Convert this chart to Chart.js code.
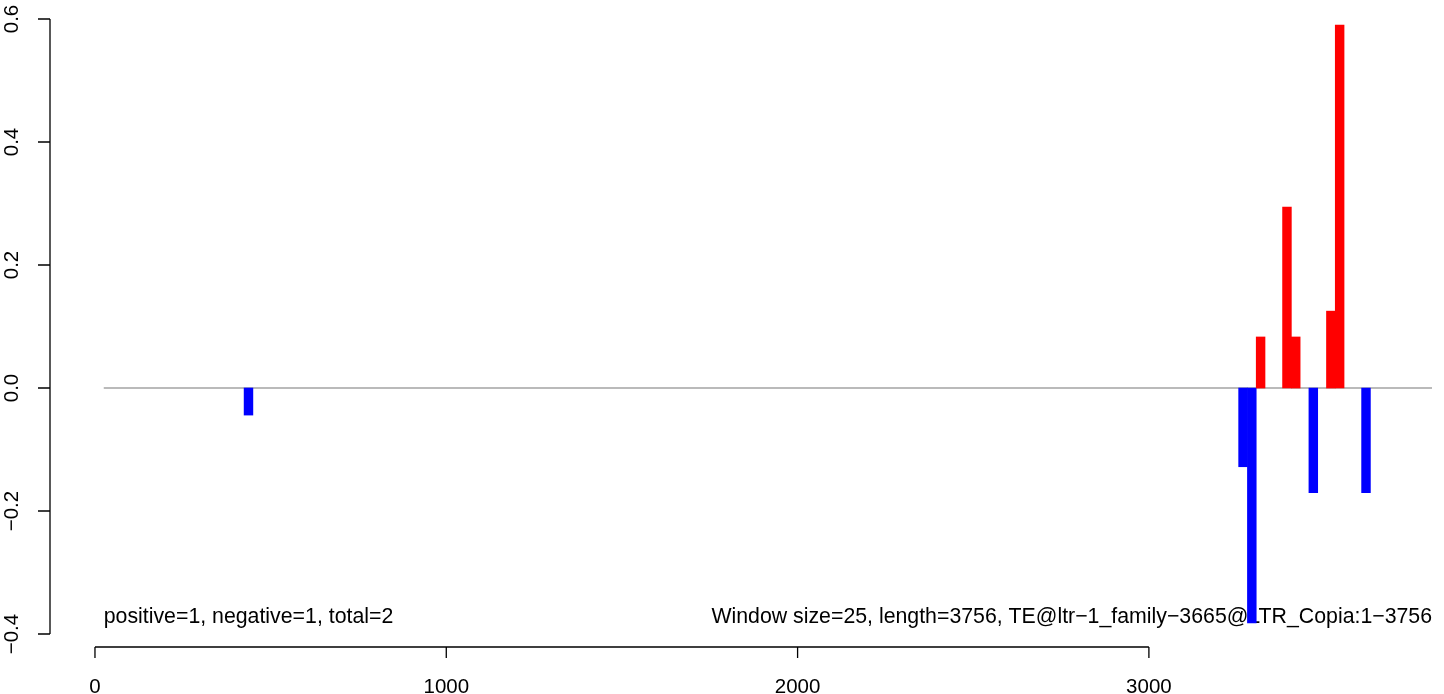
<!DOCTYPE html>
<html>
<head>
<meta charset="utf-8">
<script src="https://cdn.jsdelivr.net/npm/chart.js@4.4.1/dist/chart.umd.min.js"></script>
<style>
  body { margin: 0; background: #fff; }
  #wrap { width: 1444px; height: 694px; }
</style>
</head>
<body>
<div id="wrap"><canvas id="mycanvas"></canvas></div>
<script>
// bin centres (window size 25) and values
var posX = [3318, 3393, 3418, 3518, 3543];
var posY = [0.083, 0.294, 0.083, 0.125, 0.590];
var negX = [437, 3268, 3293, 3468, 3618];
var negY = [-0.044, -0.128, -0.382, -0.170, -0.170];
var zeroLineX = [25, 3806];
var xTicks = [0, 1000, 2000, 3000];
var yTicks = [-0.4, -0.2, 0.0, 0.2, 0.4, 0.6];
var leftNote = "positive=1, negative=1, total=2";
var rightNote = "Window size=25, length=3756, TE@ltr-1_family-3665@LTR_Copia:1-3756";

function pts(xs, ys) {
  var out = [];
  for (var i = 0; i < xs.length; i++) out.push({x: xs[i], y: ys[i]});
  return out;
}

var tickFont = '20.5px "Liberation Sans", Arial, sans-serif';
var noteFont = '21.3px "Liberation Sans", Arial, sans-serif';

// R style axes and notes
var rAxes = {
  id: 'rAxes',
  beforeDatasetsDraw: function(chart) {
    // notes go under the bars, like in the original
    var ctx = chart.ctx;
    var xs = chart.scales.x;
    var area = chart.chartArea;
    ctx.save();
    ctx.fillStyle = '#000';
    ctx.font = noteFont;
    var ny = area.bottom - 24;
    ctx.textBaseline = 'alphabetic';
    ctx.textAlign = 'left';
    ctx.fillText(leftNote, xs.getPixelForValue(zeroLineX[0]), ny);
    ctx.textAlign = 'right';
    ctx.fillText(rightNote.replace(/-/g, '\u2212'), xs.getPixelForValue(zeroLineX[1]), ny);
    ctx.restore();
  },
  afterDraw: function(chart) {
    var ctx = chart.ctx;
    var xs = chart.scales.x, ys = chart.scales.y;
    var area = chart.chartArea;
    ctx.save();
    ctx.strokeStyle = '#000';
    ctx.fillStyle = '#000';
    ctx.lineWidth = 1.3;
    ctx.font = tickFont;

    // x axis
    var ax = area.bottom;
    ctx.beginPath();
    ctx.moveTo(xs.getPixelForValue(xTicks[0]), ax);
    ctx.lineTo(xs.getPixelForValue(xTicks[xTicks.length - 1]), ax);
    xTicks.forEach(function(t) {
      var px = xs.getPixelForValue(t);
      ctx.moveTo(px, ax);
      ctx.lineTo(px, ax + 11);
    });
    ctx.stroke();
    ctx.textAlign = 'center';
    ctx.textBaseline = 'alphabetic';
    xTicks.forEach(function(t) {
      ctx.fillText(String(t), xs.getPixelForValue(t), ax + 46);
    });

    // y axis
    var ay = area.left;
    ctx.beginPath();
    ctx.moveTo(ay, ys.getPixelForValue(yTicks[0]));
    ctx.lineTo(ay, ys.getPixelForValue(yTicks[yTicks.length - 1]));
    yTicks.forEach(function(t) {
      var py = ys.getPixelForValue(t);
      ctx.moveTo(ay, py);
      ctx.lineTo(ay - 12, py);
    });
    ctx.stroke();
    yTicks.forEach(function(t) {
      ctx.save();
      ctx.translate(ay - 32, ys.getPixelForValue(t));
      ctx.rotate(-Math.PI / 2);
      ctx.textAlign = 'center';
      ctx.textBaseline = 'alphabetic';
      var s = t.toFixed(1).replace('-', '\u2212');
      ctx.fillText(s, 0, 0);
      ctx.restore();
    });
    ctx.restore();
  }
};

var ctx = document.getElementById('mycanvas');
var chart = new Chart(ctx, {
  type: 'bar',
  data: {
    datasets: [
      {
        type: 'line',
        label: 'zero',
        data: pts(zeroLineX, [0, 0]),
        borderColor: '#777777',
        borderWidth: 1.2,
        pointRadius: 0,
        order: 2
      },
      {
        label: 'positive',
        data: pts(posX, posY),
        backgroundColor: '#ff0000',
        order: 1
      },
      {
        label: 'negative',
        data: pts(negX, negY),
        backgroundColor: '#0000ff',
        order: 1
      }
    ]
  },
  options: {
    responsive: true,
    maintainAspectRatio: false,
    animation: false,
    grouped: false,
    barPercentage: 1,
    categoryPercentage: 1,
    layout: { padding: { left: 50, top: 0, right: 0, bottom: 47 } },
    plugins: { legend: { display: false }, tooltip: { enabled: false } },
    scales: {
      x: { type: 'linear', display: false, min: -128, max: 3840, offset: false },
      y: { type: 'linear', display: false, min: -0.4211, max: 0.6309 }
    }
  },
  plugins: [rAxes]
});
</script>
</body>
</html>
